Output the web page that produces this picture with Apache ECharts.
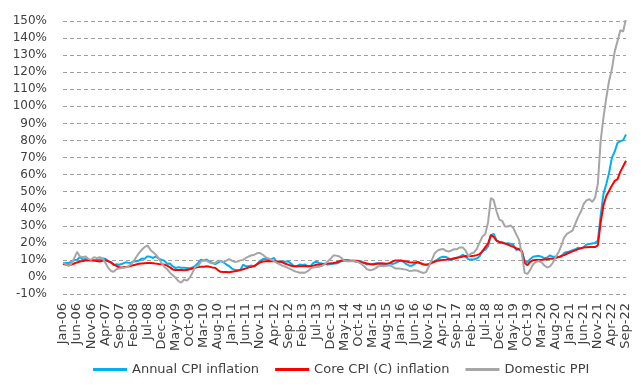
<!DOCTYPE html>
<html>
<head>
<meta charset="utf-8">
<script src="https://cdn.jsdelivr.net/npm/echarts@6/dist/echarts.min.js"></script>
<style>
html,body{margin:0;padding:0;background:#fff;}
#chart{width:641px;height:388px;}
</style>
</head>
<body>
<div id="chart"></div>
<script>
var monthNames = ["Jan","Feb","Mar","Apr","May","Jun","Jul","Aug","Sep","Oct","Nov","Dec"];
var startYear = 2006, monthCount = 201;
var categories = [];
for (var k = 0; k < monthCount; k++) {
  var y = startYear + Math.floor(k / 12);
  categories.push(monthNames[k % 12] + "-" + String(y).slice(2));
}

var seriesNames = ["Annual CPI inflation", "Core CPI (C) inflation", "Domestic PPI"];

var annualCPI = [
  7.93, 8.15, 8.16, 8.83, 9.86, 10.12, 11.69, 10.26, 10.55, 9.98, 9.86, 9.65,
  9.93, 10.16, 10.86, 10.72, 9.23, 8.60, 6.90, 7.39, 7.12, 7.70, 8.40, 8.39,
  8.17, 9.10, 9.15, 9.66, 10.74, 10.61, 12.06, 11.77, 11.13, 11.99, 10.76, 10.06,
  9.50, 7.73, 7.89, 6.13, 5.24, 5.73, 5.39, 5.33, 5.27, 5.08, 5.53, 6.53,
  8.19, 10.13, 9.56, 10.19, 9.10, 8.37, 7.58, 8.33, 9.24, 8.62, 7.29, 6.40,
  4.90, 4.16, 3.99, 4.26, 7.17, 6.24, 6.31, 6.65, 6.15, 7.66, 9.48, 10.45,
  10.61, 10.43, 10.43, 11.14, 8.28, 8.87, 9.07, 8.88, 9.19, 7.80, 6.37, 6.16,
  7.31, 7.03, 7.29, 6.13, 6.51, 8.30, 8.88, 8.17, 7.88, 7.71, 7.32, 7.40,
  7.75, 7.89, 8.39, 9.38, 9.66, 9.16, 9.32, 9.54, 8.86, 8.96, 9.15, 8.17,
  7.24, 7.55, 7.61, 7.91, 8.09, 7.20, 6.81, 7.14, 7.95, 7.58, 8.10, 8.81,
  9.58, 8.78, 7.46, 6.57, 6.58, 7.64, 8.79, 8.05, 7.28, 7.16, 7.00, 8.53,
  9.22, 10.13, 11.29, 11.87, 11.72, 10.90, 9.79, 10.68, 11.20, 11.90, 12.98, 11.92,
  10.35, 10.26, 10.23, 10.85, 12.15, 15.39, 15.85, 17.90, 24.52, 25.24, 21.62, 20.30,
  20.35, 19.67, 19.71, 19.50, 18.71, 15.72, 16.65, 15.01, 9.26, 8.55, 10.56, 11.84,
  12.15, 12.37, 11.86, 10.94, 11.39, 12.62, 11.76, 11.77, 11.75, 11.89, 14.03, 14.60,
  14.97, 15.61, 16.19, 17.14, 16.59, 17.53, 18.95, 19.25, 19.58, 19.89, 21.31, 36.08,
  48.69, 54.44, 61.14, 69.97, 73.50, 78.62, 79.60, 80.21, 83.45
];

var coreCPI = [
  7.6, 7.2, 6.8, 7.2, 7.9, 8.5, 9.0, 9.3, 9.6, 9.7, 9.6, 9.6,
  9.4, 9.1, 9.5, 9.8, 9.3, 8.5, 7.4, 6.4, 5.7, 5.5, 5.8, 6.0,
  6.4, 6.9, 7.3, 7.7, 7.9, 8.0, 8.1, 8.2, 8.0, 7.8, 7.6, 7.5,
  7.2, 6.6, 5.6, 4.4, 4.0, 4.0, 4.1, 3.9, 4.0, 4.5, 4.9, 5.4,
  5.8, 5.9, 6.0, 6.2, 6.0, 5.6, 5.4, 4.0, 3.0, 2.9, 2.9, 2.8,
  3.1, 3.3, 3.6, 4.0, 4.5, 5.0, 5.6, 5.9, 6.5, 7.5, 8.5, 9.0,
  9.2, 9.3, 9.2, 9.3, 9.1, 9.0, 8.6, 7.7, 7.2, 6.5, 6.2, 6.2,
  6.3, 6.3, 6.4, 6.3, 6.4, 6.6, 7.1, 7.2, 7.4, 7.6, 7.9, 8.0,
  8.2, 8.5, 9.0, 9.6, 9.8, 9.8, 9.6, 9.5, 9.5, 9.3, 8.5, 8.3,
  7.9, 7.5, 7.3, 7.6, 7.9, 8.0, 7.9, 7.8, 8.1, 9.0, 9.7, 9.6,
  9.6, 9.3, 9.0, 8.6, 8.5, 8.5, 8.6, 8.0, 7.4, 7.2, 7.6, 8.2,
  8.9, 9.4, 9.8, 10.0, 10.1, 10.3, 10.5, 10.9, 11.3, 11.5, 11.9, 12.3,
  12.1, 12.2, 12.4, 12.8, 13.4, 15.0, 17.5, 19.5, 24.5, 23.5, 21.2, 20.5,
  20.0, 19.5, 19.0, 18.2, 17.6, 16.8, 16.1, 15.0, 8.2, 6.9, 8.8, 9.8,
  9.9, 9.9, 10.0, 10.2, 10.4, 10.6, 10.7, 11.0, 11.6, 12.3, 12.8, 13.6,
  14.3, 15.0, 15.6, 16.3, 16.9, 17.3, 17.4, 17.5, 17.5, 17.5, 18.5, 31.9,
  42.0, 47.4, 50.5, 53.6, 56.3, 57.3, 61.7, 64.9, 68.1
];

var domesticPPI = [
  8.2, 7.5, 6.4, 7.8, 11.0, 14.7, 12.0, 11.5, 12.0, 10.6, 10.0, 11.6,
  11.0, 11.5, 11.0, 8.5, 5.5, 3.5, 3.0, 4.5, 5.0, 5.3, 5.5, 5.9,
  7.3, 9.0, 11.5, 14.0, 16.0, 17.5, 18.5, 16.0, 14.5, 13.0, 11.0, 8.1,
  6.0, 4.5, 2.5, 1.0, -0.5, -2.5, -3.3, -1.5, -2.2, -0.5, 2.5, 5.9,
  6.5, 9.0, 9.8, 9.5, 8.5, 8.0, 8.0, 9.5, 9.5, 8.8, 9.5, 10.5,
  9.5, 8.8, 9.0, 9.7, 10.0, 11.2, 12.0, 12.7, 13.0, 14.0, 14.0, 13.0,
  11.5, 10.9, 10.2, 9.3, 8.3, 7.4, 6.5, 6.0, 5.2, 4.5, 3.6, 3.0,
  2.5, 2.6, 2.5, 3.5, 5.0, 5.6, 5.8, 5.9, 6.5, 7.5, 9.0, 10.5,
  12.5, 12.5, 12.1, 11.0, 9.5, 9.3, 9.2, 9.3, 9.0, 8.6, 7.7, 6.2,
  4.5, 3.9, 4.2, 5.0, 6.2, 6.5, 6.3, 6.5, 6.8, 6.0, 5.0, 4.9,
  4.8, 4.5, 4.3, 3.5, 3.6, 3.9, 3.6, 2.9, 2.3, 2.8, 6.4, 9.9,
  13.7, 15.4, 16.1, 16.4, 15.3, 14.9, 15.5, 16.3, 16.3, 17.3, 17.3, 15.5,
  12.1, 13.7, 14.3, 16.4, 20.2, 23.7, 25.0, 32.1, 46.2, 45.0, 38.5, 33.6,
  32.9, 29.6, 29.6, 30.1, 28.7, 25.0, 21.7, 13.5, 2.5, 1.7, 4.3, 7.4,
  8.8, 9.3, 8.5, 6.7, 5.5, 6.2, 8.3, 11.5, 14.3, 18.2, 23.1, 25.2,
  26.2, 27.1, 31.2, 35.2, 38.3, 42.9, 44.9, 45.5, 44.0, 46.3, 54.6, 79.9,
  93.5, 105.0, 115.0, 121.8, 132.2, 138.3, 144.6, 143.8, 151.5
];

var yMin = -10, yMax = 150, yStep = 10;
var colors = ["#00B0F0", "#FF0000", "#A6A6A6"];
var textColor = "#404040";
var fontFamily = "DejaVu Sans, Verdana, sans-serif";

var chart = echarts.init(document.getElementById("chart"), null, {renderer: "canvas"});
var valueSets = [annualCPI, coreCPI, domesticPPI];
var series = seriesNames.map(function (name, i) {
  return {
    name: name,
    type: "line",
    data: valueSets[i],
    symbol: "none",
    smooth: false,
    lineStyle: {width: 2, color: colors[i]},
    itemStyle: {color: colors[i]},
    z: 2 + i
  };
});

chart.setOption({
  animation: false,
  backgroundColor: "#ffffff",
  grid: {left: 63, right: 15, top: 21, bottom: 94, containLabel: false},
  legend: {
    data: seriesNames,
    left: 88,
    top: 358,
    icon: "rect",
    itemWidth: 34,
    itemHeight: 3,
    itemGap: 16,
    textStyle: {color: textColor, fontSize: 13, fontFamily: fontFamily}
  },
  xAxis: {
    type: "category",
    data: categories,
    boundaryGap: false,
    axisLine: {show: false},
    axisTick: {show: false},
    splitLine: {show: false},
    axisLabel: {
      interval: 4,
      rotate: 90,
      margin: 9,
      color: textColor,
      fontSize: 13,
      fontFamily: fontFamily
    }
  },
  yAxis: {
    type: "value",
    min: yMin,
    max: yMax,
    interval: yStep,
    axisLine: {show: false},
    axisTick: {show: false},
    axisLabel: {
      formatter: "{value}%",
      color: textColor,
      fontSize: 12,
      fontFamily: fontFamily,
      margin: 16
    },
    splitLine: {show: true, lineStyle: {color: "#A0A0A0", width: 1, type: [4, 3]}}
  },
  series: series
});
</script>
</body>
</html>
